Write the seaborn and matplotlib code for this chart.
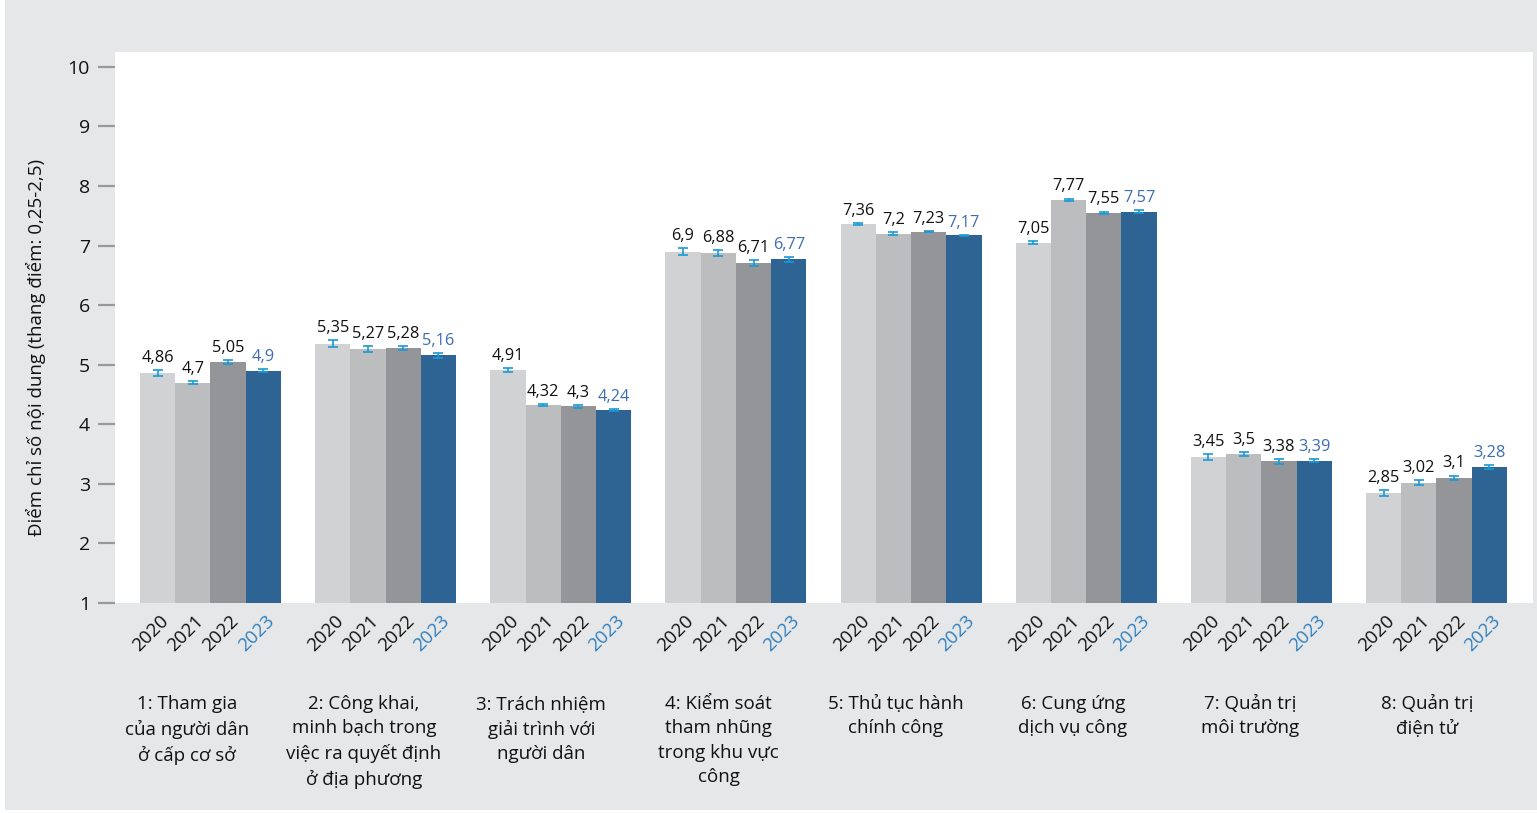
import numpy as np
import pandas as pd
import matplotlib
matplotlib.use("Agg")
import matplotlib.pyplot as plt
from matplotlib.patches import Rectangle
import seaborn as sns

# --- data ---
categories = [
    "1: Tham gia\ncủa người dân\nở cấp cơ sở",
    "2: Công khai,\nminh bạch trong\nviệc ra quyết định\nở địa phương",
    "3: Trách nhiệm\ngiải trình với\nngười dân",
    "4: Kiểm soát\ntham nhũng\ntrong khu vực\ncông",
    "5: Thủ tục hành\nchính công",
    "6: Cung ứng\ndịch vụ công",
    "7: Quản trị\nmôi trường",
    "8: Quản trị\nđiện tử",
]
years = ["2020", "2021", "2022", "2023"]

scores_2020 = [4.86, 5.35, 4.91, 6.90, 7.36, 7.05, 3.45, 2.85]
scores_2021 = [4.70, 5.27, 4.32, 6.88, 7.20, 7.77, 3.50, 3.02]
scores_2022 = [5.05, 5.28, 4.30, 6.71, 7.23, 7.55, 3.38, 3.10]
scores_2023 = [4.90, 5.16, 4.24, 6.77, 7.17, 7.57, 3.39, 3.28]

err_2020 = [0.05, 0.06, 0.04, 0.06, 0.02, 0.02, 0.05, 0.05]
err_2021 = [0.03, 0.05, 0.02, 0.05, 0.02, 0.02, 0.04, 0.04]
err_2022 = [0.03, 0.04, 0.02, 0.05, 0.01, 0.02, 0.04, 0.04]
err_2023 = [0.02, 0.04, 0.01, 0.04, 0.01, 0.02, 0.03, 0.03]

y_label = "Điểm chỉ số nội dung (thang điểm: 0,25-2,5)"

# long-form table for seaborn
scores = [scores_2020, scores_2021, scores_2022, scores_2023]
errors = [err_2020, err_2021, err_2022, err_2023]
rows = []
for yr, vals, errs in zip(years, scores, errors):
    for i, (v, e) in enumerate(zip(vals, errs)):
        rows.append({"group": str(i), "year": yr, "score": v, "err": e})
df = pd.DataFrame(rows)

# --- styling ---
BG = "#e6e7e8"
palette = {"2020": "#d1d2d4", "2021": "#bcbdbf", "2022": "#939598", "2023": "#2e6494"}
ERR_COLOR = "#1a9ad6"
BLUE_TEXT = "#3a6db3"
YEAR_BLUE = "#2f80c0"

sns.set_style("white")
plt.rcParams["font.family"] = ["Open Sans", "DejaVu Sans"]

fig = plt.figure(figsize=(15.37, 8.13), dpi=100)
fig.patch.set_facecolor("white")
fig.patches.append(Rectangle((0.003, 0.004), 0.997, 0.996, transform=fig.transFigure,
                             facecolor=BG, edgecolor="none", zorder=-10))
ax = fig.add_axes([115 / 1537, 1 - 603 / 813, 1418 / 1537, 551 / 813])
ax.set_facecolor("white")

sns.barplot(data=df, x="group", y="score", hue="year", hue_order=years,
            palette=palette, width=0.805, errorbar=None, legend=False,
            saturation=1, ax=ax, edgecolor="none", linewidth=0)

ax.set_ylim(1, 10.25)
ax.set_xlim(-0.545, 7.551)

# error bars + value labels + year labels from the bars seaborn placed
for yr, cont, errs in zip(years, ax.containers, errors):
    for bar, e in zip(cont.patches, errs):
        x = bar.get_x() + bar.get_width() / 2
        h = bar.get_height() + bar.get_y()
        ax.errorbar(x, h, yerr=e, fmt="none", ecolor=ERR_COLOR, elinewidth=1.2,
                    capsize=3.5, capthick=1.2, zorder=5)
        txt = f"{h:g}".replace(".", ",")
        ax.annotate(txt, xy=(x, h + e), xytext=(0, 3), textcoords="offset points",
                    ha="center", va="bottom", fontsize=11.8,
                    color=BLUE_TEXT if yr == "2023" else "#111111")
        ax.annotate(yr, xy=(x, 0), xycoords=ax.get_xaxis_transform(),
                    xytext=(-5, -6.5), textcoords="offset points",
                    rotation=45, ha="center", va="top", fontsize=13.5,
                    color=YEAR_BLUE if yr == "2023" else "#111111",
                    annotation_clip=False)

ax.set_xticks([])

# category names below the years
for i, name in enumerate(categories):
    ax.text((i + 0.405) / 8, -0.167, name, transform=ax.transAxes, ha="center", va="top",
            fontsize=13.5, linespacing=1.45, color="#111111")

# y axis
ax.set_yticks(range(1, 11))
ax.tick_params(axis="y", left=True, length=12, width=1.6, color="#999999", pad=6,
               labelsize=14, labelcolor="#111111", direction="out")
ax.set_ylabel(y_label, fontsize=13.5, color="#111111", va="center")
ax.yaxis.set_label_coords(-0.0557, 0.464)
ax.set_xlabel("")

for s in ax.spines.values():
    s.set_visible(False)

fig.savefig("out.png", dpi=100, facecolor=fig.get_facecolor())
